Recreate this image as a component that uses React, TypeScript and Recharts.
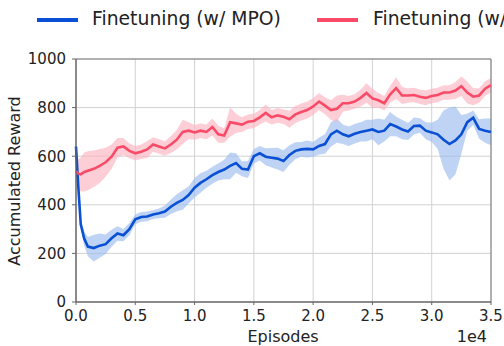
import React from 'react'
import {
  ComposedChart, Area, Line, XAxis, YAxis, CartesianGrid, ReferenceArea,
} from 'recharts'

// episodes, in units of 1e4
const episodes = [
  0.00, 0.02, 0.04, 0.07, 0.10, 0.15, 0.20, 0.25, 0.30, 0.35,
  0.40, 0.45, 0.50, 0.55, 0.60, 0.65, 0.70, 0.75, 0.80, 0.85,
  0.90, 0.95, 1.00, 1.05, 1.10, 1.15, 1.20, 1.25, 1.30, 1.35,
  1.40, 1.45, 1.50, 1.55, 1.60, 1.65, 1.70, 1.75, 1.80, 1.85,
  1.90, 1.95, 2.00, 2.05, 2.10, 2.15, 2.20, 2.25, 2.30, 2.35,
  2.40, 2.45, 2.50, 2.55, 2.60, 2.65, 2.70, 2.75, 2.80, 2.85,
  2.90, 2.95, 3.00, 3.05, 3.10, 3.15, 3.20, 3.25, 3.30, 3.35,
  3.40, 3.45, 3.50,
]

const mpoMean = [
  640, 470, 320, 260, 228, 222, 232, 238, 262, 282,
  275, 300, 340, 350, 352, 360, 365, 372, 392, 408,
  420, 440, 470, 490, 505, 522, 535, 545, 560, 572,
  548, 545, 600, 612, 598, 594, 590, 580, 605, 622,
  628, 630, 628, 642, 650, 690, 705, 690, 682, 692,
  700, 705, 710, 700, 705, 732, 722, 710, 702, 724,
  726, 705, 698, 690, 668, 650, 665, 690, 740, 758,
  712, 705, 700,
]

const mpoSpread = [
  10, 15, 20, 30, 40, 55, 50, 40, 35, 30,
  25, 25, 20, 20, 20, 18, 20, 25, 30, 35,
  40, 35, 40, 40, 35, 35, 35, 40, 55, 40,
  30, 35, 30, 30, 35, 40, 45, 45, 40, 35,
  30, 35, 30, 35, 40, 50, 50, 40, 40, 40,
  40, 45, 40, 55, 45, 50, 40, 40, 35, 35,
  30, 35, 40, 60, 120, 150, 140, 80, 35, 30,
  40, 50, 55,
]

const baseMean = [
  538, 528, 525, 535, 540, 548, 560, 575, 598, 635,
  640, 622, 612, 618, 628, 648, 640, 632, 648, 668,
  700, 705, 698, 705, 700, 720, 690, 685, 740, 735,
  730, 742, 745, 760, 778, 760, 768, 762, 752, 772,
  782, 790, 805, 825, 808, 790, 795, 818, 818, 825,
  840, 860, 838, 830, 818, 855, 880, 850, 850, 852,
  845, 840, 848, 852, 862, 862, 870, 888, 862, 845,
  850, 878, 892,
]

const baseSpread = [
  50, 60, 70, 80, 80, 75, 70, 60, 50, 40,
  35, 30, 30, 30, 35, 30, 30, 30, 35, 40,
  50, 35, 30, 30, 30, 35, 35, 30, 60, 40,
  30, 30, 30, 30, 35, 30, 30, 30, 35, 35,
  35, 35, 35, 35, 35, 40, 55, 35, 30, 30,
  35, 40, 40, 30, 30, 35, 45, 35, 30, 30,
  30, 30, 30, 30, 30, 30, 35, 40, 45, 35,
  30, 30, 30,
]

const xTicks = [0, 0.5, 1, 1.5, 2, 2.5, 3, 3.5]
const yTicks = [0, 200, 400, 600, 800, 1000]

const BLUE = '#0a50d4'
const BLUE_BAND = '#9dbcef'
const RED = '#f94b67'
const RED_BAND = '#fdb3c1'
const FONT = '"DejaVu Sans", sans-serif'

const data = episodes.map((x, i) => ({
  x,
  mpo: mpoMean[i],
  mpoBand: [mpoMean[i] - mpoSpread[i], mpoMean[i] + mpoSpread[i]],
  base: baseMean[i],
  baseBand: [baseMean[i] - baseSpread[i], baseMean[i] + baseSpread[i]],
}))

export default function App() {
  const tickStyle = { fontSize: 15, fill: '#222', fontFamily: FONT }
  return (
    <div style={{ position: 'absolute', left: 0, top: 0, width: 504, height: 346, overflow: 'hidden', fontFamily: FONT, background: '#fff' }}>
      <ComposedChart width={504} height={346} data={data} margin={{ top: 59, right: 13, bottom: 0, left: 0 }}>
        <CartesianGrid stroke="#d2d2d2" strokeWidth={1} />
        <XAxis
          dataKey="x"
          type="number"
          domain={[0, 3.5]}
          ticks={xTicks}
          tickFormatter={(v: number) => v.toFixed(1)}
          tick={tickStyle}
          tickSize={3}
          tickMargin={5}
          height={44}
          stroke="#666"
          interval={0}
        />
        <YAxis
          type="number"
          domain={[0, 1000]}
          ticks={yTicks}
          tick={tickStyle}
          tickSize={4}
          tickMargin={6}
          width={76}
          stroke="#666"
          interval={0}
        />
        <Area dataKey="mpoBand" stroke="none" fill={BLUE_BAND} fillOpacity={0.65} isAnimationActive={false} type="linear" />
        <Area dataKey="baseBand" stroke="none" fill={RED_BAND} fillOpacity={0.65} isAnimationActive={false} type="linear" />
        <Line dataKey="mpo" stroke={BLUE} strokeWidth={2.6} dot={false} isAnimationActive={false} type="linear" />
        <Line dataKey="base" stroke={RED} strokeWidth={2.6} dot={false} isAnimationActive={false} type="linear" />
        <ReferenceArea x1={0} x2={3.5} y1={0} y2={1000} fill="none" stroke="#777" strokeWidth={1} ifOverflow="visible" />
      </ComposedChart>

      {/* legend, clipped on the right like the original */}
      <div style={{ position: 'absolute', top: 18, left: 37, width: 41, height: 4, background: BLUE }} />
      <div style={{ position: 'absolute', top: 8, left: 92, fontSize: 18.8, color: '#222', whiteSpace: 'nowrap', lineHeight: '22px' }}>Finetuning (w/ MPO)</div>
      <div style={{ position: 'absolute', top: 18, left: 317, width: 41, height: 4, background: RED }} />
      <div style={{ position: 'absolute', top: 8, left: 373, fontSize: 18.8, color: '#222', whiteSpace: 'nowrap', lineHeight: '22px' }}>Finetuning (w/o MPO)</div>

      <div style={{ position: 'absolute', left: 14, top: 181, transform: 'translate(-50%, -50%) rotate(-90deg)', fontSize: 16, color: '#222', whiteSpace: 'nowrap' }}>Accumulated Reward</div>
      <div style={{ position: 'absolute', left: 283, top: 336, transform: 'translate(-50%, -50%)', fontSize: 16, color: '#222', whiteSpace: 'nowrap' }}>Episodes</div>
      <div style={{ position: 'absolute', right: 17, top: 336, transform: 'translateY(-50%)', fontSize: 16, color: '#222', whiteSpace: 'nowrap' }}>1e4</div>
    </div>
  )
}
